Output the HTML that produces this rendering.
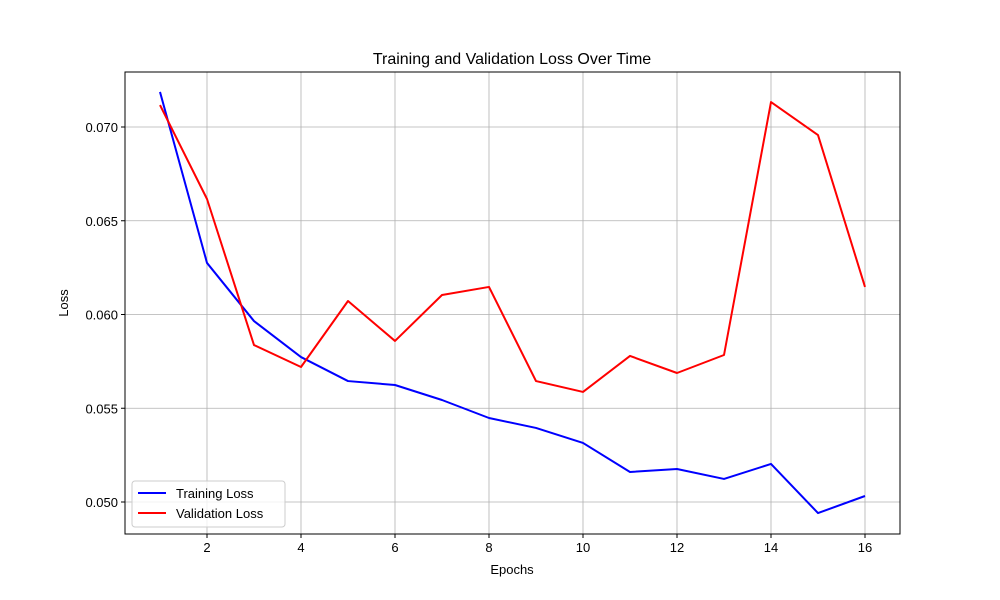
<!DOCTYPE html>
<html><head><meta charset="utf-8">
<style>
html,body{margin:0;padding:0;background:#fff;}
svg{display:block;font-family:"Liberation Sans","DejaVu Sans",sans-serif;}
</style></head>
<body>
<svg id="chart" width="1000" height="600" xmlns="http://www.w3.org/2000/svg">
<rect width="1000" height="600" fill="#fff"/>
<text x="512" y="64" text-anchor="middle" font-size="16">Training and Validation Loss Over Time</text>
<g id="grid"></g>
<g id="lines"></g>
<rect x="125" y="72" width="775" height="462" fill="none" stroke="#000" stroke-width="1"/>
<g id="ticks"></g>
<text x="512" y="574" text-anchor="middle" font-size="13">Epochs</text>
<text x="68" y="303" text-anchor="middle" font-size="13" transform="rotate(-90 68 303)">Loss</text>
<g>
<rect x="132" y="481" width="153" height="46" rx="3" fill="#fff" fill-opacity="0.8" stroke="#ccc"/>
<g>
<line x1="138" y1="493" x2="166" y2="493" stroke="#0000ff" stroke-width="2"/>
<text x="176" y="498" font-size="13">Training Loss</text></g>
<g>
<line x1="138" y1="513" x2="166" y2="513" stroke="#ff0000" stroke-width="2"/>
<text x="176" y="518" font-size="13">Validation Loss</text></g>
</g>
</svg>
<script>
const epochs=[1,2,3,4,5,6,7,8,9,10,11,12,13,14,15,16];
const trainLoss=[0.07187,0.06275,0.05965,0.05773,0.05645,0.05624,0.05544,0.05448,0.05395,0.05315,0.0516,0.05176,0.05123,0.05203,0.04941,0.05032];
const valLoss=[0.07117,0.06616,0.05837,0.0572,0.06072,0.05859,0.06104,0.06147,0.05645,0.05587,0.05779,0.05688,0.05784,0.07133,0.06957,0.06147];
const xTicks=[2,4,6,8,10,12,14,16];
const yTicks=[0.050,0.055,0.060,0.065,0.070];
const NS="http://www.w3.org/2000/svg";
function xs(v){return 160+(v-1)*47;}
function ys(v){return 502-(v-0.05)*18750;}
function mk(tag,attrs,parent){const e=document.createElementNS(NS,tag);for(const k in attrs)e.setAttribute(k,attrs[k]);parent.appendChild(e);return e;}
const grid=document.getElementById('grid'),ticks=document.getElementById('ticks'),lines=document.getElementById('lines');
xTicks.forEach(t=>{const x=xs(t);
const g=mk('line',{x1:x,x2:x,y1:72,y2:534,stroke:'#b0b0b0','stroke-width':0.8},grid);


mk('line',{x1:x,x2:x,y1:534,y2:538,stroke:'#000'},ticks);
const l=mk('text',{x:x,y:552,'text-anchor':'middle','font-size':13},ticks);l.textContent=t;

});
yTicks.forEach(t=>{const y=ys(t);
const g=mk('line',{x1:125,x2:900,y1:y,y2:y,stroke:'#b0b0b0','stroke-width':0.8},grid);


mk('line',{x1:121,x2:125,y1:y,y2:y,stroke:'#000'},ticks);
const l=mk('text',{x:118,y:y+5,'text-anchor':'end','font-size':13},ticks);l.textContent=t.toFixed(3);

});
function series(vals,color,name){
const p=mk('polyline',{points:vals.map((v,i)=>xs(epochs[i])+','+ys(v)).join(' '),fill:'none',stroke:color,'stroke-width':2,'stroke-linejoin':'round'},lines);

}
series(trainLoss,'#0000ff','training-loss-line');
series(valLoss,'#ff0000','validation-loss-line');
</script>
</body></html>
